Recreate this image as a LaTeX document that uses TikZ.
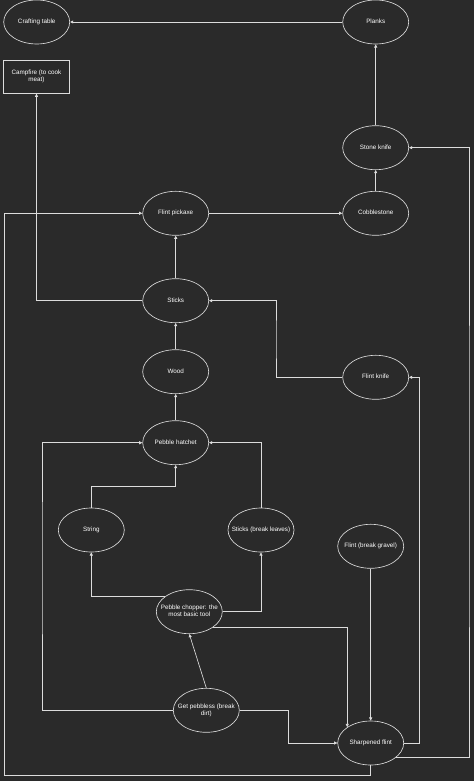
\documentclass[tikz,border=0pt]{standalone}
\usepackage{fontspec}
\setmainfont{Liberation Sans}
\usetikzlibrary{shapes.geometric,arrows.meta}
\definecolor{bgc}{HTML}{2A2A2A}
\definecolor{linec}{HTML}{DCDCDC}
\newcommand{\tx}[1]{\makebox[0pt]{\begin{tabular}{@{}c@{}}#1\end{tabular}}}
\tikzset{
  elli/.style={ellipse,draw=linec,line width=0.65pt,minimum width=66pt,minimum height=44pt,inner sep=0pt,text=white,font=\fontsize{6.3}{7.3}\selectfont},
  boxn/.style={rectangle,draw=linec,line width=0.65pt,minimum width=66.4pt,minimum height=33pt,inner sep=0pt,text=white,font=\fontsize{6.3}{7.3}\selectfont},
  arr/.style={draw=linec,line width=0.65pt,-{Triangle[length=3.2pt,width=3pt]}}
}
\begin{document}
\begin{tikzpicture}[x=1pt,y=-1pt]
\fill[bgc] (0,0) rectangle (474,781);
\useasboundingbox (0,0) rectangle (474,781);
\node[elli] (ct) at (36.7,22) {\tx{Crafting table}};
\node[elli] (pl) at (375.7,22) {\tx{Planks}};
\node[boxn] (cf) at (36.5,76.8) {\tx{Campfire (to cook\\meat)}};
\node[elli] (sk) at (375.7,147.7) {\tx{Stone knife}};
\node[elli] (fp) at (175.7,213.3) {\tx{Flint pickaxe}};
\node[elli] (cb) at (375.7,213.3) {\tx{Cobblestone}};
\node[elli] (st) at (175.7,300.7) {\tx{Sticks}};
\node[elli] (wd) at (175.7,371.7) {\tx{Wood}};
\node[elli] (fk) at (375.7,377.3) {\tx{Flint knife}};
\node[elli] (ph) at (175.7,442.7) {\tx{Pebble hatchet}};
\node[elli] (sg) at (91.3,530) {\tx{String}};
\node[elli] (sbl) at (261,530) {\tx{Sticks (break leaves)}};
\node[elli] (fbg) at (370.7,546.3) {\tx{Flint (break gravel)}};
\node[elli] (ch) at (189.3,611.7) {\tx{Pebble chopper: the\\most basic tool}};
\node[elli] (gp) at (206.3,710.3) {\tx{Get pebbless (break\\dirt)}};
\node[elli] (sf) at (370.7,743) {\tx{Sharpened flint}};
\coordinate (k1) at (175.7,486.3);
\coordinate (k2) at (42,560);
\coordinate (k3) at (288.3,725);
\coordinate (k4) at (4,775.7);
\coordinate (k5) at (469,500);
\coordinate (k6) at (419.3,600);
\coordinate (k7) at (276,340);
\draw[arr] (pl) -- (ct);
\draw[arr] (sk) -- (pl);
\draw[arr] (cb) -- (sk);
\draw[arr] (fp) -- (cb);
\draw[arr] (st) -- (fp);
\draw[arr] (st) -| (cf);
\draw[arr] (fk) -| (k7) |- (st);
\draw[arr] (wd) -- (st);
\draw[arr] (ph) -- (wd);
\draw[arr] (sg) |- (k1) -- (ph);
\draw[arr] (sbl) |- (ph);
\draw[arr] (gp) -| (k2) |- (ph);
\draw[arr] (ch.147) -| (sg);
\draw[arr] (ch) -| (sbl);
\draw[arr] (ch.-33) -| (sf.146);
\draw[arr] (gp.north) -- (ch.south);
\draw[arr] (gp) -| (k3) |- (sf);
\draw[arr] (fbg) -- (sf);
\draw[arr] (sf) |- (k4) |- (fp);
\draw[arr] (sf.-30) -| (k5) |- (sk);
\draw[arr] (sf) -| (k6) |- (fk);
\end{tikzpicture}
\end{document}
